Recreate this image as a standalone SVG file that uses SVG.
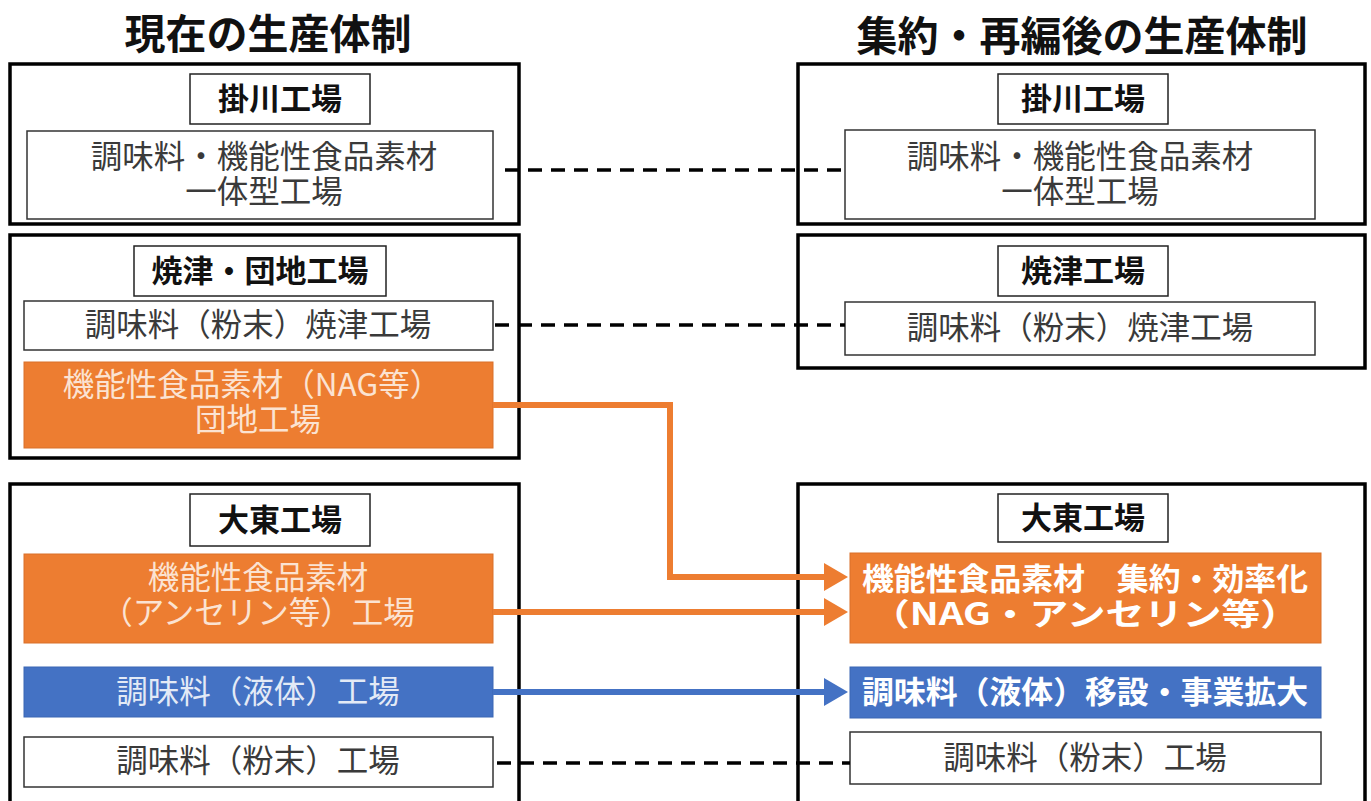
<svg xmlns="http://www.w3.org/2000/svg" width="1371" height="801" viewBox="0 0 1371 801">
<style>
text{font-family:"Noto Sans CJK JP","Noto Sans",sans-serif;text-anchor:middle}
.h{font-size:41px;font-weight:700;fill:#111}
.outer{fill:#fff;stroke:#000;stroke-width:3.5}
.tbox{fill:#fff;stroke:#222;stroke-width:1.5}
.wbox{fill:#fff;stroke:#333;stroke-width:1.5}
.ob{fill:#ED7D31;stroke:#D9702A;stroke-width:1}
.bb{fill:#4472C4;stroke:#3A66B4;stroke-width:1}
.t{font-size:31px;font-weight:700;fill:#111}
.c{font-size:31.5px;fill:#3a3a3a}
.ot{font-size:31.5px;fill:#FBE3D2}
.bt{font-size:31.5px;fill:#E3EAF6}
.wt{font-size:31px;font-weight:700;fill:#fff}
.dash{stroke:#000;stroke-width:3.5;stroke-dasharray:14 9;fill:none}
.oa{stroke:#ED7D31;stroke-width:6;fill:none}
.ba{stroke:#4472C4;stroke-width:6;fill:none}
</style>
<defs>
<marker id="ah-o" markerUnits="userSpaceOnUse" markerWidth="24" markerHeight="28" refX="2" refY="14" orient="auto"><path d="M0,0 L24,14 L0,28 Z" fill="#ED7D31"/></marker>
<marker id="ah-b" markerUnits="userSpaceOnUse" markerWidth="24" markerHeight="28" refX="2" refY="14" orient="auto"><path d="M0,0 L24,14 L0,28 Z" fill="#4472C4"/></marker>
</defs>
<rect width="1371" height="801" fill="#fff"/>
<text class="h" x="268" y="49">現在の生産体制</text>
<text class="h" x="1082" y="51">集約・再編後の生産体制</text>

<g id="left-kakegawa">
<rect class="outer" x="10" y="64" width="509" height="160"/>
<rect class="tbox" x="190" y="74" width="180" height="50"/>
<text class="t" x="280" y="110">掛川工場</text>
<rect class="wbox" x="27" y="131" width="466" height="88"/>
<text class="c"><tspan x="264" y="168">調味料・機能性食品素材</tspan><tspan x="264" y="203">一体型工場</tspan></text>
</g>

<g id="left-yaizu">
<rect class="outer" x="10" y="235" width="509" height="223"/>
<rect class="tbox" x="134" y="246" width="252" height="50"/>
<text class="t" x="260" y="282">焼津・団地工場</text>
<rect class="wbox" x="24" y="301" width="469" height="49"/>
<text class="c" x="258" y="336">調味料（粉末）焼津工場</text>
<rect class="ob" x="24" y="362" width="469" height="86"/>
<text class="ot"><tspan x="252" y="396">機能性食品素材（NAG等）</tspan><tspan x="258" y="431">団地工場</tspan></text>
</g>

<g id="left-daito">
<rect class="outer" x="10" y="484" width="509" height="330"/>
<rect class="tbox" x="190" y="494" width="180" height="52"/>
<text class="t" x="280" y="531">大東工場</text>
<rect class="ob" x="24" y="554" width="469" height="89"/>
<text class="ot"><tspan x="258" y="589">機能性食品素材</tspan><tspan x="258" y="624">（アンセリン等）工場</tspan></text>
<rect class="bb" x="24" y="667" width="469" height="50"/>
<text class="bt" x="258" y="703">調味料（液体）工場</text>
<rect class="wbox" x="24" y="737" width="469" height="50"/>
<text class="c" x="258" y="772">調味料（粉末）工場</text>
</g>

<g id="right-kakegawa">
<rect class="outer" x="798" y="64" width="567" height="160"/>
<rect class="tbox" x="998" y="74" width="170" height="50"/>
<text class="t" x="1083" y="110">掛川工場</text>
<rect class="wbox" x="845" y="130" width="470" height="89"/>
<text class="c"><tspan x="1080" y="168">調味料・機能性食品素材</tspan><tspan x="1080" y="203">一体型工場</tspan></text>
</g>

<g id="right-yaizu">
<rect class="outer" x="798" y="235" width="567" height="133"/>
<rect class="tbox" x="998" y="246" width="170" height="50"/>
<text class="t" x="1083" y="282">焼津工場</text>
<rect class="wbox" x="845" y="302" width="470" height="53"/>
<text class="c" x="1080" y="339">調味料（粉末）焼津工場</text>
</g>

<g id="right-daito">
<rect class="outer" x="798" y="484" width="567" height="330"/>
<rect class="tbox" x="998" y="494" width="170" height="48"/>
<text class="t" x="1083" y="529">大東工場</text>
<rect class="ob" x="850" y="553" width="471" height="90"/>
<text class="wt"><tspan x="1085" y="590" textLength="446" lengthAdjust="spacingAndGlyphs">機能性食品素材　集約・効率化</tspan><tspan x="1085" y="625" textLength="428" lengthAdjust="spacingAndGlyphs">（NAG・アンセリン等）</tspan></text>
<rect class="bb" x="850" y="667" width="471" height="51"/>
<text class="wt" x="1085" y="703" textLength="446" lengthAdjust="spacingAndGlyphs">調味料（液体）移設・事業拡大</text>
<rect class="wbox" x="850" y="732" width="471" height="52"/>
<text class="c" x="1085" y="769">調味料（粉末）工場</text>
</g>

<g id="connectors">
<line class="dash" x1="505" y1="170" x2="845" y2="170"/>
<line class="dash" x1="495" y1="325" x2="845" y2="325"/>
<line class="dash" x1="497" y1="763" x2="850" y2="763"/>
<polyline class="oa" points="493,405 670,405 670,577 826,577" marker-end="url(#ah-o)"/>
<line class="oa" x1="493" y1="612" x2="826" y2="612" marker-end="url(#ah-o)"/>
<line class="ba" x1="493" y1="692" x2="826" y2="692" marker-end="url(#ah-b)"/>
</g>
</svg>
